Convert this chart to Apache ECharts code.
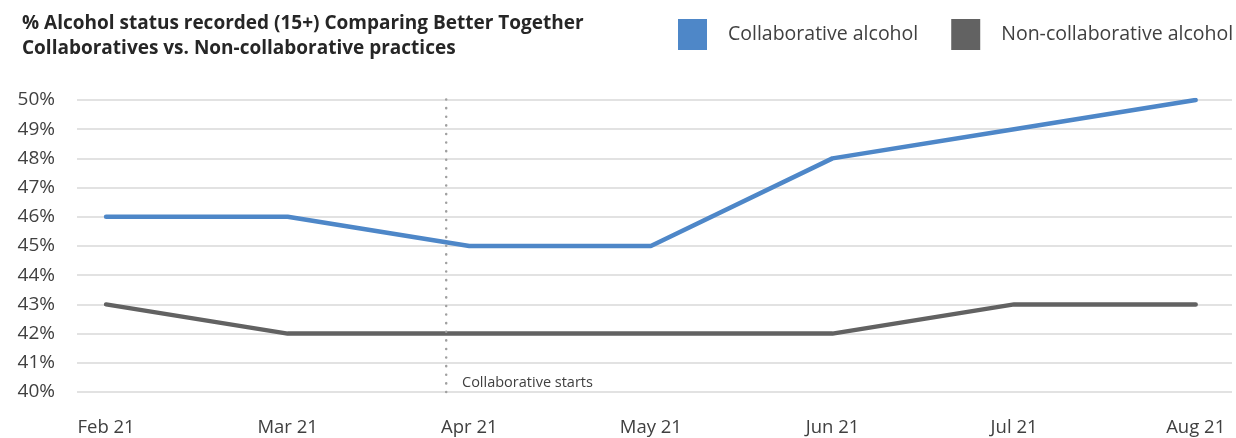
<!DOCTYPE html>
<html><head><meta charset="utf-8">
<script src="https://cdn.jsdelivr.net/npm/echarts@6/dist/echarts.min.js"></script>
<style>html,body{margin:0;padding:0;background:#fff}#c{width:1236px;height:438px}</style>
</head><body><div id="c"></div>
<script>
const categories = ['Feb 21','Mar 21','Apr 21','May 21','Jun 21','Jul 21','Aug 21'];
const collaborative = [46,46,45,45,48,49,50];
const nonCollaborative = [43,42,42,42,42,43,43];
const yTicks = [40,41,42,43,44,45,46,47,48,49,50];
const startIndex = 1.873;
const startLabel = 'Collaborative starts';
const FONT = 'Open Sans';
const chart = echarts.init(document.getElementById('c'));
chart.setOption({
  animation:false,
  textStyle:{fontFamily:FONT},
  title:{text:'% Alcohol status recorded (15+) Comparing Better Together\nCollaboratives vs. Non-collaborative practices',left:17,top:6,
    textStyle:{fontFamily:FONT,fontSize:19,fontWeight:'bold',color:'#262626',lineHeight:25}},
  legend:{left:678,top:19,padding:0,icon:'rect',itemWidth:29,itemHeight:31,itemGap:33,
    textStyle:{fontFamily:FONT,fontSize:19.5,color:'#404040',padding:[0,0,0,16]},
    data:['Collaborative alcohol','Non-collaborative alcohol']},
  grid:{left:77,right:4,top:100,bottom:46},
  xAxis:{type:'value',min:-0.16,max:6.2,
    axisLine:{show:false},axisTick:{show:false},splitLine:{show:false},
    axisLabel:{customValues:categories.map((c,i)=>i),formatter:v=>categories[Math.round(v)],
      fontFamily:FONT,fontSize:18.5,color:'#404040',margin:26}},
  yAxis:{type:'value',min:40,max:50,interval:1,
    axisLine:{show:false},axisTick:{show:false},
    splitLine:{lineStyle:{color:'#d9d9d9',width:1.5}},
    axisLabel:{customValues:yTicks,formatter:'{value}%',fontFamily:FONT,fontSize:19,color:'#404040',margin:22}},
  graphic:[{type:'text',left:462,top:375,style:{text:startLabel,font:'14.5px "'+FONT+'"',fill:'#404040'}}],
  series:[
    {name:'Collaborative alcohol',type:'line',data:collaborative.map((v,i)=>[i,v]),symbol:'none',
      lineStyle:{color:'#4e87c8',width:4.5,cap:'round'},itemStyle:{color:'#4e87c8'}},
    {name:'Non-collaborative alcohol',type:'line',data:nonCollaborative.map((v,i)=>[i,v]),symbol:'none',
      lineStyle:{color:'#626262',width:4.5,cap:'round'},itemStyle:{color:'#626262'}},
    {name:'start',type:'line',data:[[startIndex,40],[startIndex,50.3]],symbol:'none',clip:false,silent:true,
      lineStyle:{color:'#a0a0a0',width:2.5,type:[0.1,8.5],cap:'round'}}
  ]
});
</script></body></html>
